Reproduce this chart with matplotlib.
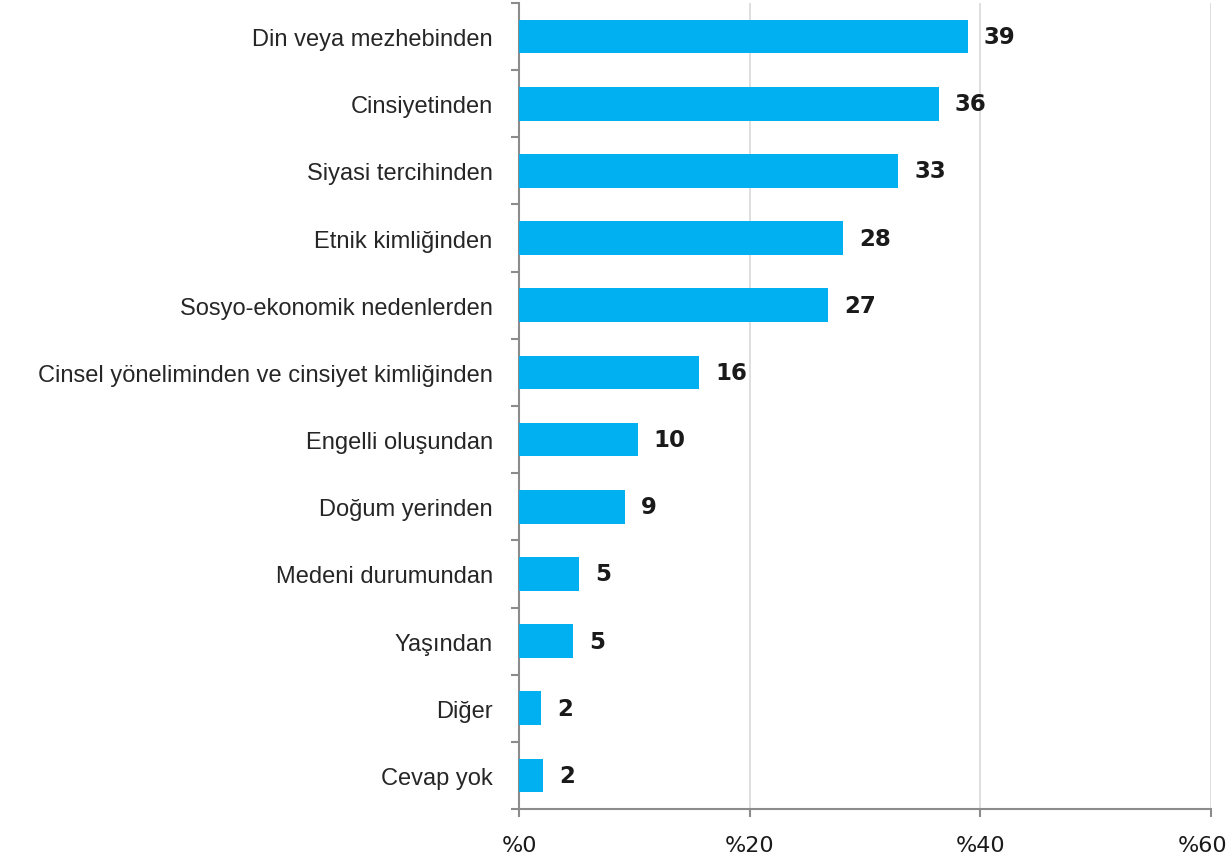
import matplotlib
matplotlib.use("Agg")
import matplotlib.pyplot as plt
import matplotlib.transforms as mtransforms
import numpy as np

# data (top to bottom)
categories = [
    "Din veya mezhebinden",
    "Cinsiyetinden",
    "Siyasi tercihinden",
    "Etnik kimliğinden",
    "Sosyo-ekonomik nedenlerden",
    "Cinsel yöneliminden ve cinsiyet kimliğinden",
    "Engelli oluşundan",
    "Doğum yerinden",
    "Medeni durumundan",
    "Yaşından",
    "Diğer",
    "Cevap yok",
]
bar_values = [38.9, 36.4, 32.9, 28.1, 26.8, 15.6, 10.3, 9.2, 5.2, 4.7, 1.9, 2.1]
value_labels = ["39", "36", "33", "28", "27", "16", "10", "9", "5", "5", "2", "2"]
x_ticks = [0, 20, 40, 60]
x_tick_labels = ["%0", "%20", "%40", "%60"]

bar_color = "#00B0F0"
axis_gray = "#8C8C8C"

fig = plt.figure(figsize=(12.32, 8.62), dpi=100)
ax = fig.add_axes([0.4213, 0.0603, 0.983 - 0.4213, 0.9954 - 0.0603])

y = np.arange(len(categories))
ax.barh(y, bar_values, height=0.5, color=bar_color, zorder=3)

# value labels at bar ends
for yi, v, lab in zip(y, bar_values, value_labels):
    ax.annotate(lab, xy=(v, yi), xytext=(11.5, 0), textcoords="offset points",
                ha="left", va="center", fontsize=16.5, fontweight="bold",
                family="DejaVu Sans", color="#1A1A1A")

ax.set_ylim(len(categories) - 0.5, -0.5)
ax.set_xlim(0, 60)

ax.set_yticks(y)
ax.set_yticklabels(categories, fontsize=17, color="#262626",
                   family="Liberation Sans")
ax.tick_params(axis="y", which="major", length=0, pad=19)
ax.set_yticks(np.arange(-0.5, len(categories), 1.0), minor=True)
ax.tick_params(axis="y", which="minor", length=6, color=axis_gray, width=1.5)

ax.set_xticks(x_ticks)
ax.set_xticklabels(x_tick_labels, fontsize=16, color="#1a1a1a",
                   family="DejaVu Sans")
ax.tick_params(axis="x", length=6, color=axis_gray, width=1.5, pad=13)
# nudge the last tick label left so it stays inside the figure
last = ax.get_xticklabels()[-1]
last.set_transform(last.get_transform() +
                   mtransforms.ScaledTranslation(-0.08, 0, fig.dpi_scale_trans))

ax.grid(axis="x", color="#D9D9D9", linewidth=1.2, zorder=0)
for s in ["top", "right"]:
    ax.spines[s].set_visible(False)
for s in ["left", "bottom"]:
    ax.spines[s].set_color(axis_gray)
    ax.spines[s].set_linewidth(1.5)

fig.savefig("out.png", dpi=100)
